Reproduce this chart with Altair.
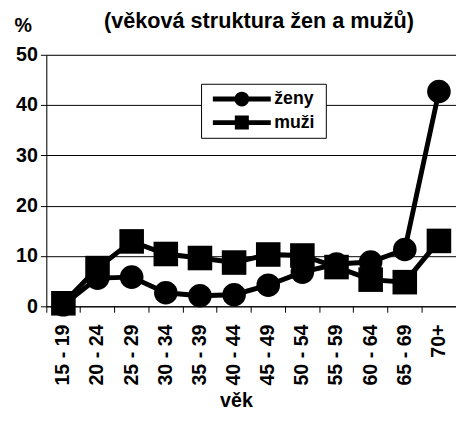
import math
import altair as alt
import pandas as pd

categories = ["15 - 19", "20 - 24", "25 - 29", "30 - 34", "35 - 39", "40 - 44",
              "45 - 49", "50 - 54", "55 - 59", "60 - 64", "65 - 69", "70+"]
zeny = [0.3, 5.6, 5.8, 2.7, 2.1, 2.3, 4.2, 6.8, 8.4, 8.8, 11.3, 42.7]
muzi = [0.6, 7.6, 12.9, 10.4, 9.6, 8.7, 10.3, 10.1, 7.8, 5.3, 4.8, 13.0]
series = ["ženy", "muži"]

rows = []
for s, vals in zip(series, [zeny, muzi]):
    for c, v in zip(categories, vals):
        rows.append({"vek": c, "pct": v, "serie": s})
df = pd.DataFrame(rows)

FONT = "Liberation Sans"

x_enc = alt.X("vek:N", sort=categories,
              scale=alt.Scale(type="band", paddingInner=0, paddingOuter=0),
              axis=alt.Axis(title="věk", labelAngle=-90, labelFontSize=20, labelFont=FONT,
                            labelFontWeight="bold", labelColor="black", labelPadding=12,
                            bandPosition=0, tickSize=6, tickColor="black",
                            domainColor="black", titleFont=FONT, titleFontSize=20,
                            titleFontWeight="bold", titleColor="black", titlePadding=6,
                            titleX=193, grid=False))
y_enc = alt.Y("pct:Q",
              scale=alt.Scale(domain=[0, 50], nice=False),
              axis=alt.Axis(values=[0, 10, 20, 30, 40, 50], title="%", titleAngle=0,
                            titleX=-24, titleY=-30, titleAlign="center",
                            titleBaseline="middle", titleFont=FONT, titleFontSize=20,
                            titleFontWeight="bold", titleColor="black",
                            labelFont=FONT, labelFontSize=20, labelFontWeight="bold",
                            labelColor="black", labelPadding=3, tickSize=6,
                            tickColor="black", domainColor="black",
                            gridColor="black", gridWidth=1, gridOpacity=1))

# legend symbol: horizontal line with a marker in the middle
seg = "M-3.93,-0.33L-0.9,-0.33L-0.9,0.33L-3.93,0.33Z M0.9,-0.33L3.93,-0.33L3.93,0.33L0.9,0.33Z"
poly = " ".join(("M" if i == 0 else "L") + f"{math.cos(2*math.pi*i/24):.3f},{math.sin(2*math.pi*i/24):.3f}"
                for i in range(24)) + "Z"
circ_path = seg + " " + poly
sq_path = seg + " M-0.95,-0.95L0.95,-0.95L0.95,0.95L-0.95,0.95Z"

layers = []
for s, shp, sz in [("ženy", "circle", 576), ("muži", "square", 625)]:
    base = alt.Chart(df).transform_filter(alt.datum.serie == s)
    layers.append(base.mark_line(color="black", strokeWidth=5).encode(x=x_enc, y=y_enc))
    layers.append(base.mark_point(shape=shp, size=sz, filled=True, color="black", opacity=1)
                  .encode(x=x_enc, y=y_enc))

# legend frame (white box with black border, drawn over the gridlines)
legend_box = alt.Chart(pd.DataFrame({"k": [0]})).mark_rect(
    fill="white", stroke="black", strokeWidth=1
).encode(x=alt.value(158), x2=alt.value(285), y=alt.value(30), y2=alt.value(85))

legend_layer = alt.Chart(df).mark_point(filled=True, opacity=0, color="black").encode(
    x=x_enc, y=y_enc,
    shape=alt.Shape("serie:N", sort=series,
                    scale=alt.Scale(domain=series, range=[circ_path, sq_path]),
                    legend=alt.Legend(title=None, orient="none", legendX=182, legendY=28,
                                      symbolSize=225, symbolOpacity=1,
                                      symbolFillColor="black", symbolStrokeColor="black",
                                      symbolStrokeWidth=0, labelFont=FONT,
                                      labelFontSize=18, labelFontWeight="bold",
                                      labelColor="black", labelOffset=24, rowPadding=6,
                                      padding=8))
)

chart = alt.layer(*layers, legend_box, legend_layer).resolve_scale(shape="independent").properties(
    width=417, height=256,
    title=alt.TitleParams("(věková struktura žen a mužů)", font=FONT, fontSize=22,
                          fontWeight="bold", color="black", anchor="middle", dx=8,
                          dy=18, offset=0),
    autosize=alt.AutoSizeParams(type="none"),
    padding={"left": 39, "top": 44, "right": 0, "bottom": 107},
).configure_view(stroke=None).configure(background="white")

chart.save("out.html", embed_options={"renderer": "svg", "actions": False})
